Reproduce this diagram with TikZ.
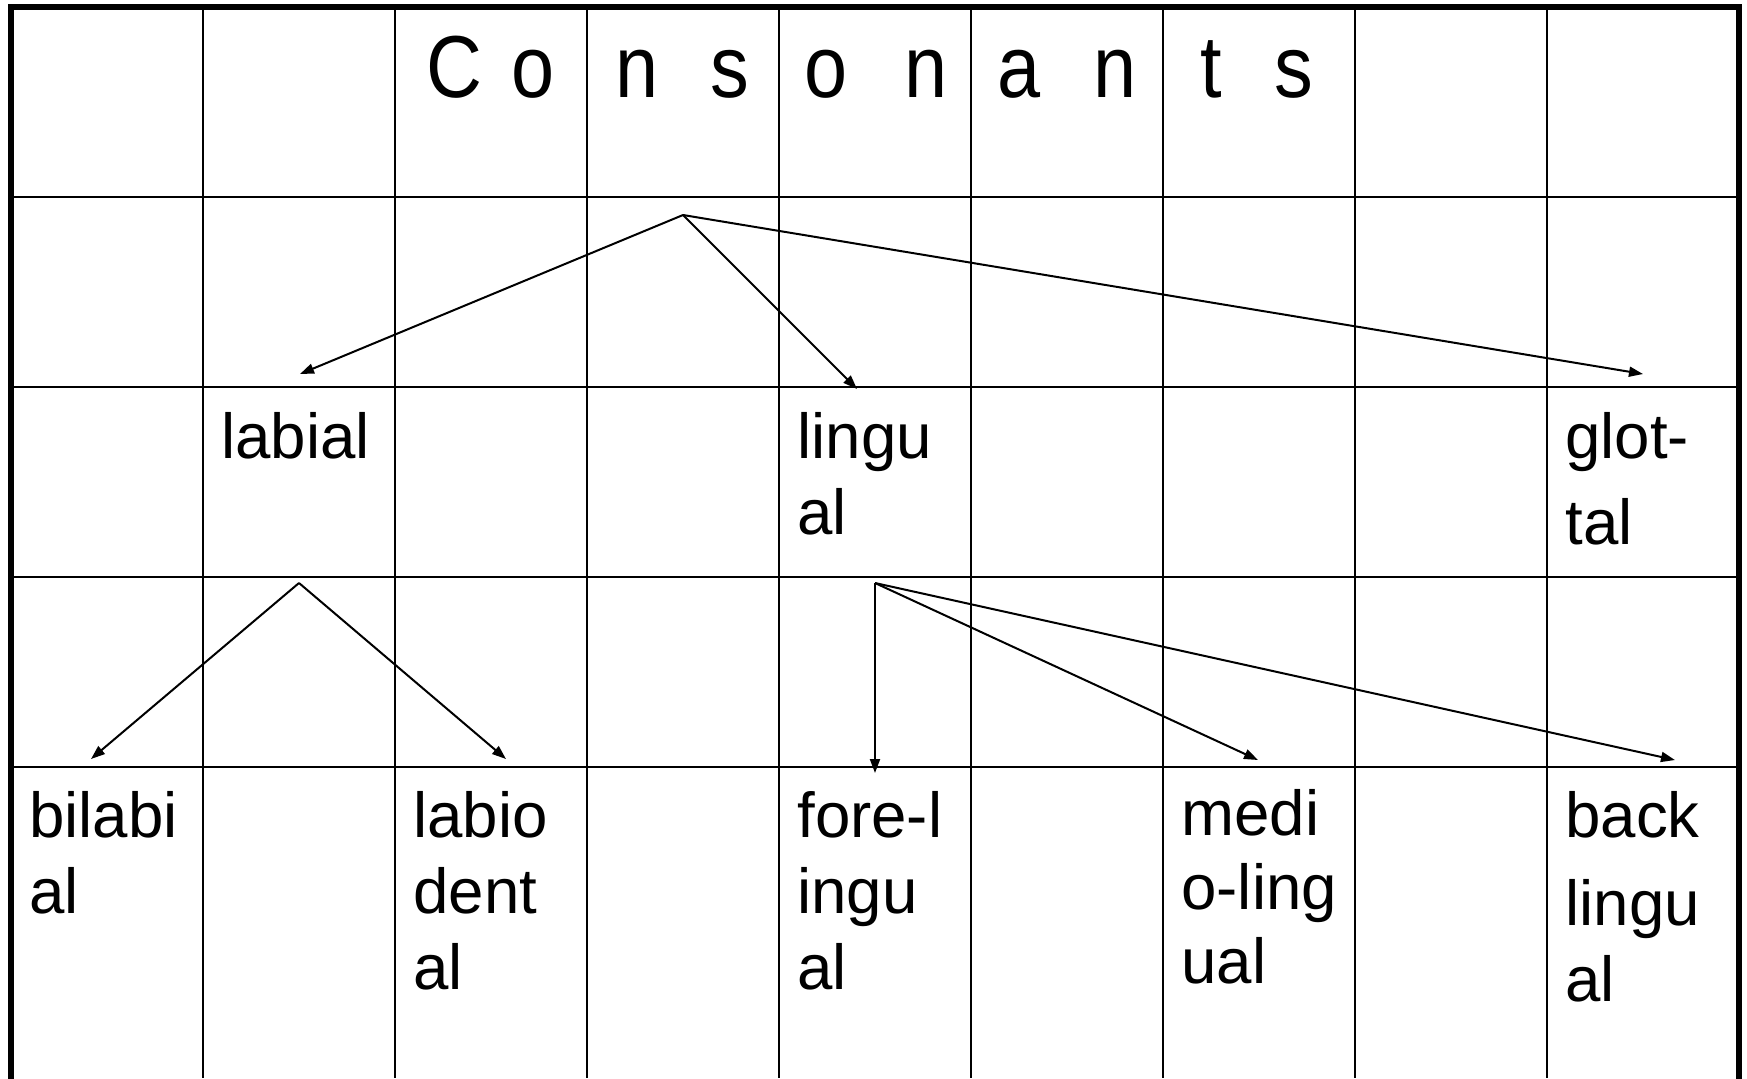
\documentclass[tikz,border=0pt]{standalone}
\usepackage{fontspec}
\setmainfont{Liberation Sans}
\usetikzlibrary{arrows.meta}
% multi-line cell text; baseline of the block is the first line's baseline
\newcommand\cellstack[1]{\begin{tabular}[t]{@{}l@{}}#1\end{tabular}}
\begin{document}
\begin{tikzpicture}[x=0.5pt,y=-0.5pt,
  grid/.style={line width=1.15pt},
  frame/.style={line width=3pt,line join=miter},
  link/.style={line width=1pt,-{Triangle[length=7pt,width=5pt]}},
  cell/.style={anchor=base west,inner sep=0pt,font=\fontsize{31.8}{38}\selectfont},
  head/.style={anchor=base,inner sep=0pt,xscale=0.88,font=\fontsize{44}{52}\selectfont}]
\useasboundingbox (0,0) rectangle (1747,1078);
\fill[white] (0,0) rectangle (1747,1078);

% table rules
\foreach \x in {203,395,...,1547} \draw[grid] (\x,7) -- (\x,1078);
\foreach \y in {197,387,577,767} \draw[grid] (11,\y) -- (1739,\y);
\draw[frame] (11,1090) -- (11,7) -- (1739,7) -- (1739,1090);

% heading, one letter per half cell
\foreach \ch/\cx [count=\i] in {C/454,o/533,n/637,s/730,o/826,n/926,a/1019,n/1115,t/1211,s/1294}
  \node[head] (h\i) at (\cx,97) {\ch};

% second level
\node[cell] (labial)  at (221,458)  {labial};
\node[cell] (lingual) at (797,458)  {\cellstack{lingu\\al}};
\node[cell] (glottal) at (1565,458) {\cellstack{glot-\\[5pt]tal}};

% third level
\node[cell] (bilabial)    at (29,837)   {\cellstack{bilabi\\al}};
\node[cell] (labiodental) at (413,837)  {\cellstack{labio\\dent\\al}};
\node[cell] (forelingual) at (797,837)  {\cellstack{fore-l\\ingu\\al}};
\node[cell,font=\fontsize{31.8}{37}\selectfont] (mediolingual) at (1181,835) {\cellstack{medi\\o-ling\\ual}};
\node[cell] (backlingual) at (1565,837) {\cellstack{back\\[6pt]lingu\\al}};

% branching points and arrow ends
\coordinate (root)   at (683,215);
\coordinate (labfork) at (299,583);
\coordinate (linfork) at (875,583);
\coordinate (toLabial)  at (300,374);
\coordinate (toLingual) at (857,389);
\coordinate (toGlottal) at (1643,374);
\coordinate (toBilabial) at (91,759);
\coordinate (toLabiodental) at (506,759);
\coordinate (toFore) at (875,773);
\coordinate (toMedio) at (1258,760);
\coordinate (toBack) at (1675,760);

\draw[link] (root) -- (toLabial);
\draw[link] (root) -- (toLingual);
\draw[link] (root) -- (toGlottal);
\draw[link] (labfork) -- (toBilabial);
\draw[link] (labfork) -- (toLabiodental);
\draw[link] (linfork) -- (toFore);
\draw[link] (linfork) -- (toMedio);
\draw[link] (linfork) -- (toBack);
\end{tikzpicture}
\end{document}
